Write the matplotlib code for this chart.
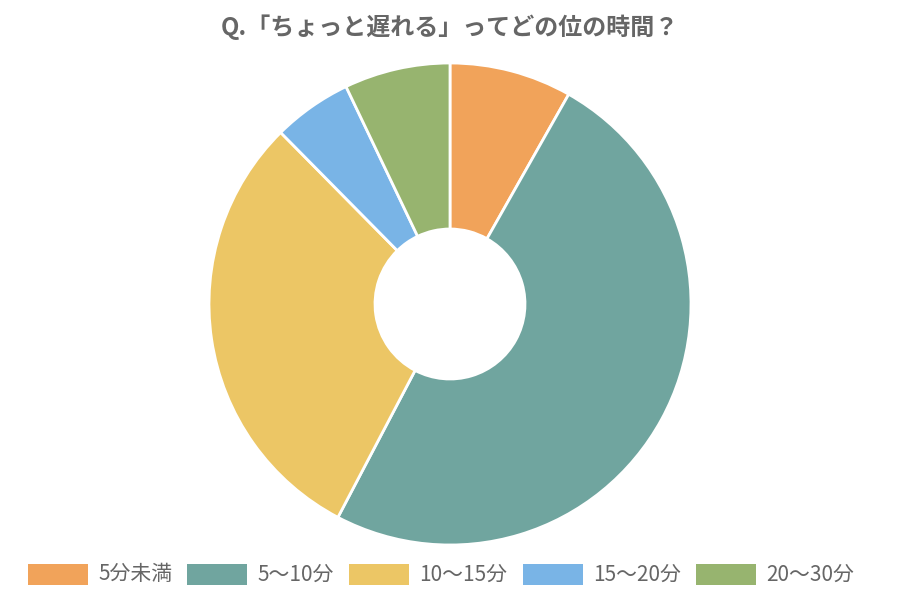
import matplotlib
matplotlib.use("Agg")
import matplotlib.pyplot as plt
from matplotlib.patches import Rectangle

plt.rcParams['font.family'] = ['Noto Sans CJK JP', 'DejaVu Sans']

title = "Q.「ちょっと遅れる」ってどの位の時間？"
categories = ["5分未満", "5～10分", "10～15分", "15～20分", "20～30分"]
values = [8.2, 49.5, 29.9, 5.3, 7.1]
colors = ["#F1A35A", "#70A59F", "#ECC665", "#79B4E6", "#97B46F"]

W, H = 900, 600
fig = plt.figure(figsize=(9, 6), dpi=100)
fig.patch.set_facecolor("white")

# pie axes: center (450,304), radius 241 px
cx, cy, r = 450, 304, 241
ax = fig.add_axes([(cx - r) / W, 1 - (cy + r) / H, 2 * r / W, 2 * r / H])
ax.pie(values, colors=colors, startangle=90, counterclock=False, radius=1,
       wedgeprops=dict(width=1 - 75 / 241, edgecolor="white", linewidth=2))
ax.set_xlim(-1, 1)
ax.set_ylim(-1, 1)
ax.set_aspect("equal")
ax.axis("off")

fig.text(0.5, 1 - 27 / H, title, ha="center", va="center", fontsize=17.3,
         fontweight="bold", color="#666666")

# legend laid out manually in pixel units
renderer = fig.canvas.get_renderer()
x = 27.5
box_w, box_h = 60, 21
y_top = 564
for cat, col in zip(categories, colors):
    fig.patches.append(Rectangle((x / W, 1 - (y_top + box_h) / H), box_w / W, box_h / H,
                                 transform=fig.transFigure, facecolor=col, edgecolor="none"))
    t = fig.text((x + box_w + 10.5) / W, 1 - (y_top + box_h / 2) / H, cat, ha="left",
                 va="center", fontsize=15, color="#666666")
    bb = t.get_window_extent(renderer)
    x = bb.x1 + 15

fig.savefig("out.png", dpi=100)
